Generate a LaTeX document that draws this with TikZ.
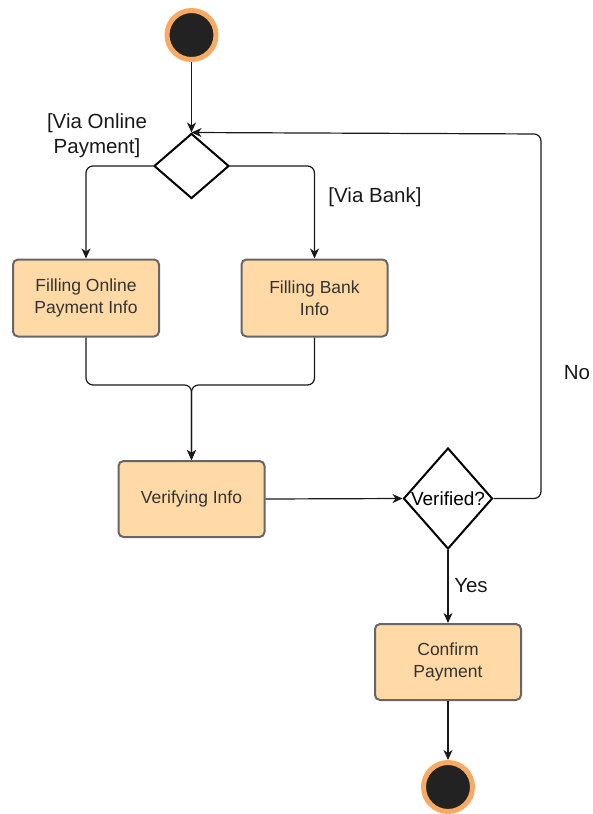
\documentclass[tikz,border=0pt]{standalone}
\usepackage{fontspec}
\setmainfont{Liberation Sans}
\usetikzlibrary{shapes.geometric,arrows.meta}
\definecolor{boxfill}{HTML}{FFDAA6}
\definecolor{boxline}{HTML}{666666}
\definecolor{ringc}{HTML}{F8AA62}
\definecolor{dotc}{HTML}{222222}
\definecolor{txt}{HTML}{333333}
\tikzset{
  actbox/.style={draw=boxline, fill=boxfill, line width=2pt, rounded corners=5pt,
    minimum width=146pt, minimum height=77pt, inner sep=0pt, align=center,
    text=txt, font=\fontsize{17.5}{22}\selectfont},
  terminal/.style={circle, draw=ringc, fill=dotc, line width=5pt,
    minimum size=49pt, inner sep=0pt},
  choice/.style={diamond, draw=black, fill=white, line width=2pt, inner sep=0pt},
  flow/.style={draw=black!90, line width=1.2pt, rounded corners=7pt,
    -{Stealth[length=10pt,width=9pt,inset=3pt]}},
  guard/.style={text=black!90, font=\fontsize{20.5}{25}\selectfont, align=center}
}
\begin{document}
\begin{tikzpicture}[x=1pt,y=-1pt]
\useasboundingbox (0,0) rectangle (592,814);

\node[terminal] (start) at (191.5,35) {};
\node[choice, minimum width=75pt, minimum height=65pt] (split) at (191.5,166) {};
\node[actbox] (online) at (86,298) {Filling Online\\Payment Info};
\node[actbox] (bank) at (314.5,298) {Filling Bank\\Info};
\node[actbox, minimum height=76pt] (verify) at (191.5,499) {Verifying Info};
\node[choice, minimum width=89pt, minimum height=101pt,
      font=\fontsize{19}{22}\selectfont] (check) at (448,498.5) {Verified?};
\node[actbox, minimum height=76pt] (confirm) at (448,662) {Confirm\\Payment};
\node[terminal] (stop) at (448,787) {};

\coordinate (joinL) at (86,385);
\coordinate (joinR) at (314.5,385);
\coordinate (loopB) at (541,498.5);
\coordinate (loopT) at (541,134);

\draw[flow] (start) -- (split.north);
\draw[flow] (split.west) -| (online.north);
\draw[flow] (split.east) -| (bank.north);
\draw[flow] (online.south) -- (joinL) -| (verify.north);
\draw[flow] (bank.south) -- (joinR) -| (verify.north);
\draw[flow] (verify.east) -- (check.west);
\draw[flow] (check.east) -- (loopB) -- (loopT) -- (split.north);
\draw[flow] (check.south) -- (confirm.north);
\draw[flow] (confirm.south) -- (stop.north);

\node[guard] (lonline) at (97,136) {[Via Online\\Payment]};
\node[guard] (lbank) at (375,197) {[Via Bank]};
\node[guard] (lno) at (577,373) {No};
\node[guard] (lyes) at (471,586) {Yes};
\end{tikzpicture}
\end{document}
